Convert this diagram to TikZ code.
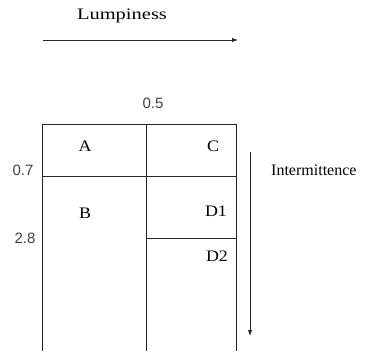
\documentclass[tikz,border=0pt]{standalone}
\usepackage{fontspec}
\setmainfont{Liberation Serif}
\newfontfamily\numfont{Liberation Sans}
\newfontfamily\widefont{Liberation Serif}[FakeStretch=1.12]
\usetikzlibrary{arrows.meta}
\tikzset{
  grid line/.style={draw=black!85, line width=1pt},
  axis arrow/.style={draw=black!85, line width=1pt, -{Latex[length=6pt,width=4.5pt]}},
  cell label/.style={inner sep=0pt, font=\widefont\fontsize{16}{18}\selectfont},
  axis label/.style={inner sep=0pt, font=\fontsize{16}{18}\selectfont},
  num label/.style={inner sep=0pt, text=black!75, font=\numfont\fontsize{15}{17}\selectfont},
}
\begin{document}
\begin{tikzpicture}[x=1pt, y=-1pt]
  \useasboundingbox (0,0) rectangle (382,351);

  % horizontal axis
  \node[axis label] (lump) at (122,16) {\scalebox{1.28}[1]{Lumpiness}};
  \coordinate (h0) at (43,40);
  \coordinate (h1) at (238,40);
  \draw[axis arrow] (h0) -- (h1);

  % vertical axis
  \node[axis label, anchor=west] (inter) at (271,170) {Intermittence};
  \coordinate (v0) at (250,152);
  \coordinate (v1) at (250,336);
  \draw[axis arrow] (v0) -- (v1);

  % classification grid
  \draw[grid line] (42.5,351) -- (42.5,124.5) -- (236.5,124.5) -- (236.5,351);
  \draw[grid line] (146.5,124.5) -- (146.5,351);
  \draw[grid line] (42.5,176.5) -- (236.5,176.5);
  \draw[grid line] (146.5,238) -- (236.5,238);

  % thresholds
  \node[num label] (t05) at (153,103) {0.5};
  \node[num label] (t07) at (23,170) {0.7};
  \node[num label] (t28) at (25,238) {2.8};

  % quadrant labels
  \node[cell label] (qa) at (85,146) {A};
  \node[cell label] (qb) at (85,213) {B};
  \node[cell label] (qc) at (213,146) {C};
  \node[cell label] (qd1) at (216,211) {D1};
  \node[cell label] (qd2) at (217,256) {D2};
\end{tikzpicture}
\end{document}
